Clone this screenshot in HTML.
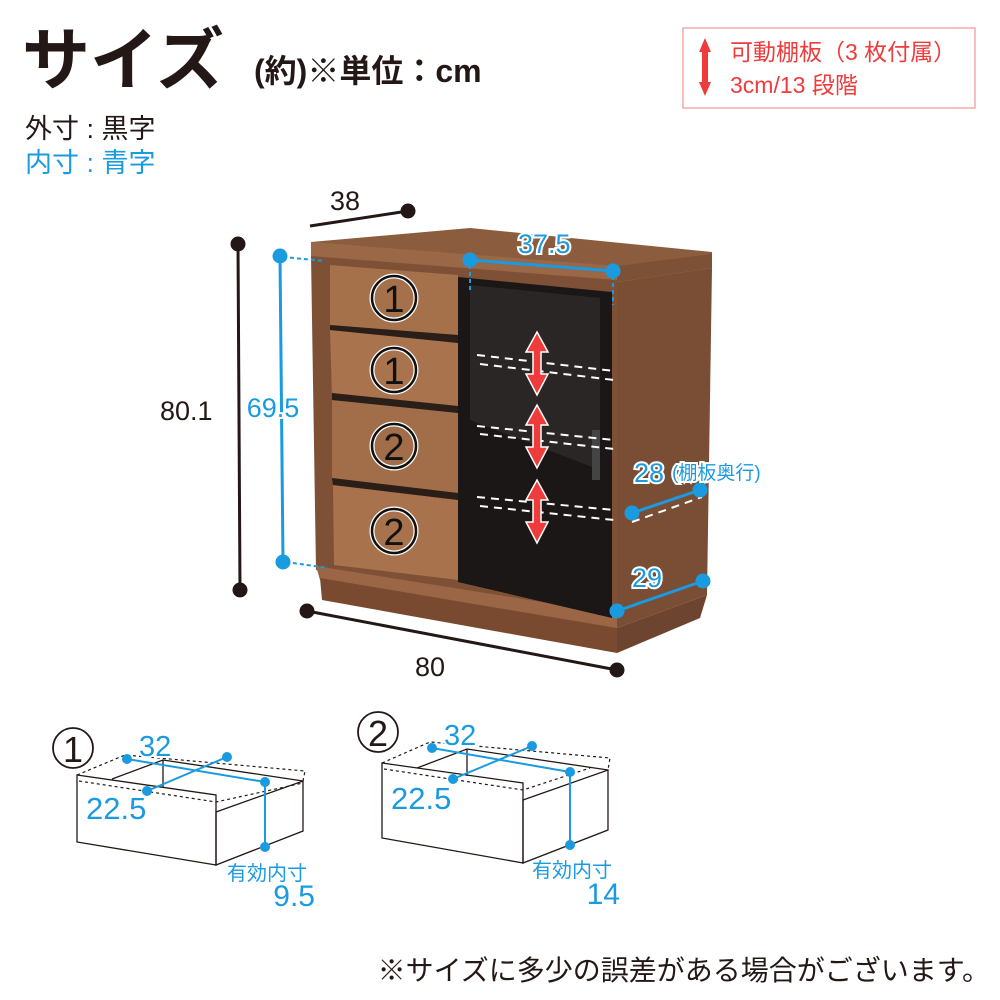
<!DOCTYPE html>
<html><head><meta charset="utf-8"><style>
html,body{margin:0;padding:0;background:#fff;}
svg{display:block;}
text{font-family:"Liberation Sans","Noto Sans CJK JP",sans-serif;}
.b{fill:#1a9be0;stroke:#fff;stroke-width:4;paint-order:stroke;}
</style></head><body>
<svg width="1000" height="1000" viewBox="0 0 1000 1000" xmlns="http://www.w3.org/2000/svg">
<!-- header -->
<text x="22" y="84" font-size="68" font-weight="bold" fill="#231815">サイズ</text>
<text x="254" y="82" font-size="32" font-weight="bold" fill="#231815">(約)※単位：cm</text>
<text x="25" y="138" font-size="27" fill="#231815">外寸 : 黒字</text>
<text x="25" y="172" font-size="27" fill="#1a9be0">内寸 : 青字</text>
<rect x="683" y="28" width="292" height="80" fill="none" stroke="#f7a8a8" stroke-width="1.5"/>
<polygon points="705,38 711,52 708,52 708,82 711,82 705,96 699,82 702,82 702,52 699,52" fill="#ef3b3b"/>
<text x="730" y="60" font-size="23" fill="#ef3b3b">可動棚板（3 枚付属）</text>
<text x="730" y="93" font-size="23" fill="#ef3b3b">3cm/13 段階</text>

<!-- cabinet -->
<polygon points="311,242 470,228 712,252 712,268 617,282 311,258" fill="#8c5c3f"/>
<polygon points="311,242 617,266 617,282 311,258" fill="#9a6846"/>
<polygon points="617,266 712,254 712,268 617,282" fill="#7d5136"/>
<polygon points="617,282 712,268 707,595 617,628" fill="#7a4d35"/>
<polygon points="311,256 617,280 617,628 316,570" fill="#7e5036"/>
<polygon points="316,566 617,614 617,630 320,580" fill="#9a6646"/>
<polygon points="320,578 617,628 617,653 322,600" fill="#7a4a30"/>
<polygon points="617,628 707,595 700,618 617,653" fill="#6d4430"/>
<!-- drawers -->
<polygon points="330,265 458,275 458,335 330,325" fill="#a5714b"/>
<polygon points="330,330 458,343 458,406 332,398" fill="#a8734d"/>
<polygon points="332,400 458,413 458,493 332,478" fill="#a26e49"/>
<polygon points="333,485 458,500 458,580 334,565" fill="#a7724c"/>
<polygon points="330,325 458,335 458,343 330,330" fill="#2a1e18"/>
<polygon points="332,393 458,406 458,413 332,400" fill="#2a1e18"/>
<polygon points="332,478 458,493 458,500 333,485" fill="#2a1e18"/>
<!-- glass door -->
<polygon points="458,277 612,292 612,618 458,582" fill="#1b1716"/>
<polygon points="470,285 600,298 600,470 470,420" fill="#2e2a29" opacity="0.8"/>
<rect x="592" y="430" width="8" height="50" fill="#444"/>
<!-- shelves dashed -->
<g stroke="#fff" stroke-width="2" stroke-dasharray="8,6" fill="none">
<path d="M477,355 L614,371 M480,364 L614,380"/>
<path d="M477,426 L614,440 M480,434 L614,449"/>
<path d="M477,497 L614,510 M480,506 L614,520"/>
<path d="M632,522 L702,497"/>
</g>
<!-- red arrows -->
<g fill="#ef3b3b" stroke="#fff" stroke-width="1.5">
<polygon points="537,332 548,352 541,352 541,374 548,374 537,395 526,374 533,374 533,352 526,352"/>
<polygon points="537,405 548,425 541,425 541,447 548,447 537,468 526,447 533,447 533,425 526,425"/>
<polygon points="537,480 548,500 541,500 541,522 548,522 537,543 526,522 533,522 533,500 526,500"/>
</g>
<!-- drawer labels -->
<g text-anchor="middle" fill="#111">
<circle cx="394" cy="298" r="22" fill="none" stroke="#fff" stroke-width="5"/><circle cx="394" cy="298" r="22" fill="none" stroke="#111" stroke-width="2.5"/>
<text x="394" y="312" font-size="38">1</text>
<circle cx="394" cy="370" r="22" fill="none" stroke="#fff" stroke-width="5"/><circle cx="394" cy="370" r="22" fill="none" stroke="#111" stroke-width="2.5"/>
<text x="394" y="384" font-size="38">1</text>
<circle cx="394" cy="446" r="22" fill="none" stroke="#fff" stroke-width="5"/><circle cx="394" cy="446" r="22" fill="none" stroke="#111" stroke-width="2.5"/>
<text x="394" y="460" font-size="38">2</text>
<circle cx="394" cy="531" r="22" fill="none" stroke="#fff" stroke-width="5"/><circle cx="394" cy="531" r="22" fill="none" stroke="#111" stroke-width="2.5"/>
<text x="394" y="545" font-size="38">2</text>
</g>
<!-- black dims -->
<g stroke="#231815" stroke-width="3" fill="#231815">
<line x1="238" y1="244" x2="240" y2="590"/><circle cx="238" cy="244" r="6"/><circle cx="240" cy="590" r="6"/>
<line x1="307" y1="611" x2="617" y2="670"/><circle cx="307" cy="611" r="6"/><circle cx="617" cy="670" r="6"/>
<line x1="310" y1="226" x2="408" y2="211"/><circle cx="408" cy="211" r="6"/>
</g>
<text x="160" y="420" font-size="27" fill="#231815">80.1</text>
<text x="330" y="210" font-size="27" fill="#231815">38</text>
<text x="415" y="676" font-size="27" fill="#231815">80</text>
<!-- blue dims -->
<g stroke="#1a9be0" stroke-width="3" fill="#1a9be0">
<line x1="280" y1="256" x2="283" y2="562"/><circle cx="280" cy="256" r="6"/><circle cx="283" cy="562" r="6"/>
<line x1="470" y1="260" x2="613" y2="271"/><circle cx="470" cy="260" r="6"/><circle cx="613" cy="271" r="6"/>
<line x1="632" y1="513" x2="700" y2="490"/><circle cx="632" cy="513" r="6"/><circle cx="700" cy="490" r="6"/>
<line x1="617" y1="611" x2="703" y2="581"/><circle cx="617" cy="611" r="6"/><circle cx="703" cy="581" r="6"/>
</g>
<g stroke="#1a9be0" stroke-width="2" stroke-dasharray="4,3">
<line x1="283" y1="257" x2="325" y2="261"/><line x1="286" y1="562" x2="328" y2="568"/>
<line x1="470" y1="265" x2="470" y2="293"/><line x1="613" y1="276" x2="613" y2="305"/>
</g>
<text x="273" y="417" class="b" font-size="27" text-anchor="middle">69.5</text>
<text x="518" y="253" class="b" font-size="27">37.5</text>
<text x="634" y="482" class="b" font-size="27">28</text>
<text x="672" y="479" class="b" font-size="19">(棚板奥行)</text>
<text x="632" y="587" class="b" font-size="27">29</text>

<!-- drawer 1 diagram -->
<circle cx="73" cy="748" r="20" fill="none" stroke="#231815" stroke-width="1.8"/>
<text x="73" y="762" font-size="36" fill="#231815" text-anchor="middle">1</text>
<g fill="none" stroke="#231815" stroke-width="1.3">
<polygon points="77,775 216,795 216,865 77,842"/>
<polygon points="216,812 303,781 303,831 216,865"/>
<path d="M112,779 L163,760 L303,781 M163,760 L163,787"/>
</g>
<g fill="none" stroke="#231815" stroke-width="1.2" stroke-dasharray="3,3">
<path d="M77,775 L125,755 L305,771 L303,781"/><path d="M79,781 L216,802 L303,783"/>
</g>
<g stroke="#1a9be0" stroke-width="2" fill="#1a9be0">
<line x1="127" y1="759" x2="265" y2="782"/><line x1="147" y1="791" x2="227" y2="757"/><line x1="265" y1="782" x2="265" y2="847"/>
<circle cx="127" cy="759" r="4"/><circle cx="265" cy="782" r="4"/><circle cx="147" cy="791" r="4"/><circle cx="227" cy="757" r="4"/><circle cx="265" cy="847" r="4"/>
</g>
<text x="139" y="756" font-size="29" class="b">32</text>
<text x="86" y="819" font-size="31" class="b">22.5</text>
<text x="227" y="880" font-size="20" fill="#1a9be0">有効内寸</text>
<text x="315" y="906" font-size="30" fill="#1a9be0" text-anchor="end">9.5</text>

<!-- drawer 2 diagram -->
<circle cx="378" cy="732" r="20" fill="none" stroke="#231815" stroke-width="1.8"/>
<text x="378" y="746" font-size="36" fill="#231815" text-anchor="middle">2</text>
<g fill="none" stroke="#231815" stroke-width="1.3">
<polygon points="382,763 523,783 523,863 382,838"/>
<polygon points="523,800 608,770 608,830 523,863"/>
<path d="M417,768 L467,749 L608,770 M467,749 L467,776"/>
</g>
<g fill="none" stroke="#231815" stroke-width="1.2" stroke-dasharray="3,3">
<path d="M382,763 L430,742 L610,758 L608,770"/><path d="M384,769 L523,790 L590,768"/>
</g>
<g stroke="#1a9be0" stroke-width="2" fill="#1a9be0">
<line x1="432" y1="748" x2="570" y2="772"/><line x1="453" y1="779" x2="532" y2="746"/><line x1="570" y1="772" x2="570" y2="845"/>
<circle cx="432" cy="748" r="4"/><circle cx="570" cy="772" r="4"/><circle cx="453" cy="779" r="4"/><circle cx="532" cy="746" r="4"/><circle cx="570" cy="845" r="4"/>
</g>
<text x="444" y="745" font-size="29" class="b">32</text>
<text x="391" y="809" font-size="31" class="b">22.5</text>
<text x="532" y="877" font-size="20" fill="#1a9be0">有効内寸</text>
<text x="620" y="904" font-size="30" fill="#1a9be0" text-anchor="end">14</text>

<text x="990" y="980" font-size="28" fill="#231815" text-anchor="end">※サイズに多少の誤差がある場合がございます。</text>
</svg>
</body></html>
